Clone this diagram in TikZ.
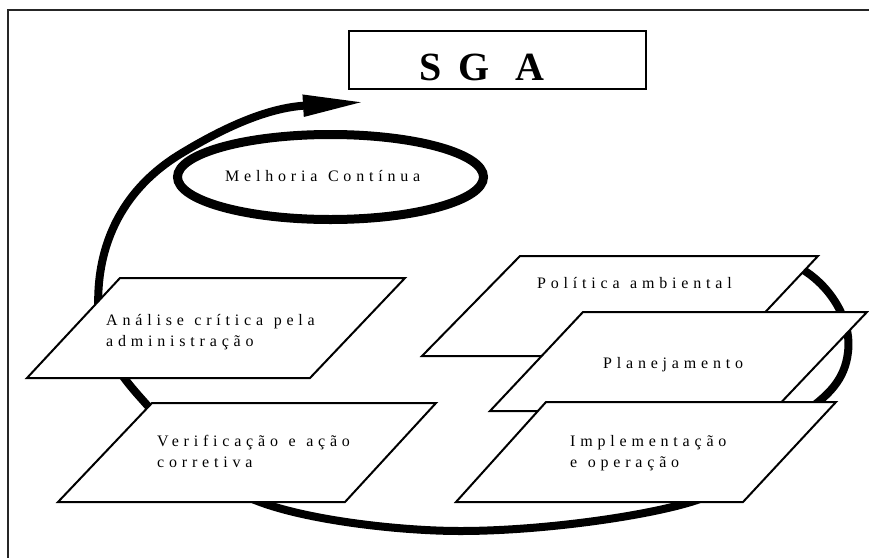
\documentclass[tikz,border=0pt]{standalone}
\usepackage{fontspec}
\setmainfont{Liberation Serif}
\newfontfamily\spacedfont[LetterSpace=30,WordSpace=1.2]{Liberation Serif}
\usetikzlibrary{arrows.meta,shapes.geometric}
\begin{document}
\begin{tikzpicture}[x=1pt,y=-1pt,
  frameline/.style={line width=2pt, draw=black!85},
  pbox/.style={draw=black, fill=white, line width=2pt, line join=miter},
  loopline/.style={line width=8pt, -{Triangle[length=62pt,width=20pt]}},
  lbl/.style={font=\spacedfont\fontsize{16}{21}\selectfont, inner sep=0pt, anchor=base west},
  titlebox/.style={draw=black, line width=1.5pt, fill=white},
  ]
\useasboundingbox (0,0) rectangle (869,557);
\fill[white] (0,0) rectangle (869,557);
% outer frame (continues beyond right and bottom edges)
\draw[frameline] (8,570) -- (8,10) -- (880,10);

% cycle loop with arrow
\coordinate (s0) at (800,268);
\coordinate (tip) at (365,102);
\draw[loopline] (s0)
  .. controls (830,285) and (852,320) .. (848,352)
  .. controls (845,380) and (828,395) .. (808,410)
  .. controls (788,425) and (740,485) .. (700,499)
  .. controls (655,515) and (545,531) .. (460,531)
  .. controls (400,531) and (300,520) .. (250,498)
  .. controls (200,476) and (165,425) .. (147,405)
  .. controls (133,389) and (104,360) .. (99,320)
  .. controls (93,250) and (120,190) .. (182,153)
  .. controls (220,130) and (265,108) .. (tip);

% parallelograms
\path[pbox] (520,256) -- (818,256) -- (724,356) -- (422,356) -- cycle;
\path[pbox] (583,312) -- (867,312) -- (773,411) -- (490,411) -- cycle;
\path[pbox] (546,402) -- (836,402) -- (743,502) -- (456,502) -- cycle;
\path[pbox] (120,278) -- (405,278) -- (310,378) -- (27,378) -- cycle;
\path[pbox] (152,403) -- (436,403) -- (345,502) -- (58,502) -- cycle;

\node[lbl] (politica) at (537,288) {Política ambiental};
\node[lbl] (planej) at (603,368) {Planejamento};
\node[lbl] (implem) at (570,446.7) {\begin{tabular}[t]{@{}l@{}}Implementação\\e operação\end{tabular}};
\node[lbl] (analise) at (106,325) {\begin{tabular}[t]{@{}l@{}}Análise crítica pela\\administração\end{tabular}};
\node[lbl] (verif) at (157,446.7) {\begin{tabular}[t]{@{}l@{}}Verificação e ação\\corretiva\end{tabular}};

% continuous improvement ellipse
\node[draw, ellipse, line width=9pt, fill=white, minimum width=306pt, minimum height=85pt, inner sep=0pt] (melhoria) at (330.5,177) {};
\node[lbl] (melhoriatext) at (225,181.7) {Melhoria Contínua};

% title
\draw[titlebox] (349,31) rectangle (646,89);
\node[font=\fontsize{40}{48}\selectfont\bfseries, inner sep=0pt, anchor=base west] (sga) at (419,80) {S\kern17pt G\kern26pt A};
\end{tikzpicture}
\end{document}
